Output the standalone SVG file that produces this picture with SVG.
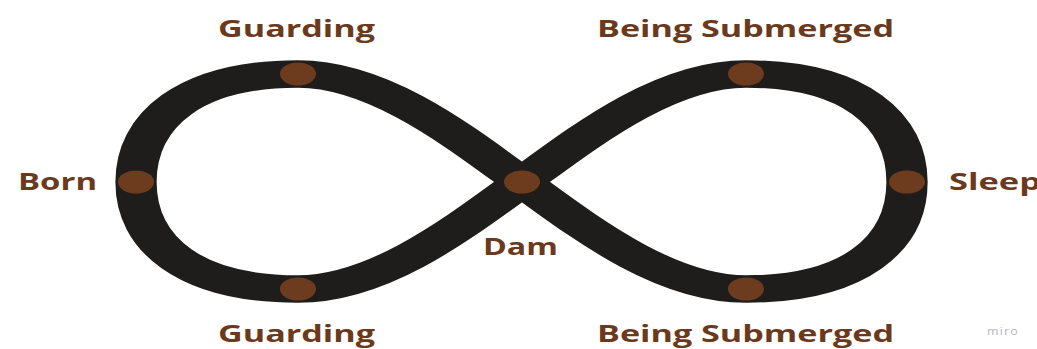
<svg xmlns="http://www.w3.org/2000/svg" width="1037" height="349" viewBox="0 0 1037 349">
<style>
.loop{fill:none;stroke:#1e1d1b;stroke-width:27.5;stroke-linejoin:round}
.dot{fill:#6d3c1e}
.lbl{font-family:"Open Sans","Noto Sans","Liberation Sans",sans-serif;font-weight:700;font-size:23px;fill:#6b3a1c}
.wm{font-family:"Open Sans","Liberation Sans",sans-serif;font-size:10px;fill:#b4b4bc;letter-spacing:1px}
</style>
<rect width="1037" height="349" fill="#ffffff"/>
<g id="connectors" transform="scale(1.5 1)">
<path class="loop" d="M348 182 C306.67 137 253.33 74 198.67 74 C126.67 74 90.67 120 90.67 182 C90.67 244 126.67 289 198.67 289 C253.33 289 306.67 227 348 182 C389.33 137 442.67 74 497.33 74 C569.33 74 604.67 120 604.67 182 C604.67 244 569.33 289 497.33 289 C442.67 289 389.33 227 348 182 Z"/>
</g>
<g id="node-guarding-top">
<ellipse class="dot" cx="298" cy="74" rx="18" ry="11.5"/>
<text class="lbl" x="218" y="37" textLength="157" lengthAdjust="spacingAndGlyphs">Guarding</text>
</g>
<g id="node-submerged-top">
<ellipse class="dot" cx="746" cy="74" rx="18" ry="11.5"/>
<text class="lbl" x="597" y="37" textLength="297" lengthAdjust="spacingAndGlyphs">Being Submerged</text>
</g>
<g id="node-born">
<ellipse class="dot" cx="136" cy="182" rx="18" ry="11.5"/>
<text class="lbl" x="18" y="190" textLength="79" lengthAdjust="spacingAndGlyphs">Born</text>
</g>
<g id="node-dam">
<ellipse class="dot" cx="522" cy="182" rx="18" ry="11.5"/>
<text class="lbl" x="483" y="255" textLength="75" lengthAdjust="spacingAndGlyphs">Dam</text>
</g>
<g id="node-sleep">
<ellipse class="dot" cx="907" cy="182" rx="18" ry="11.5"/>
<text class="lbl" x="949" y="190" textLength="92" lengthAdjust="spacingAndGlyphs">Sleep</text>
</g>
<g id="node-guarding-bottom">
<ellipse class="dot" cx="298" cy="289" rx="18" ry="11.5"/>
<text class="lbl" x="218" y="342" textLength="157" lengthAdjust="spacingAndGlyphs">Guarding</text>
</g>
<g id="node-submerged-bottom">
<ellipse class="dot" cx="746" cy="289" rx="18" ry="11.5"/>
<text class="lbl" x="597" y="342" textLength="297" lengthAdjust="spacingAndGlyphs">Being Submerged</text>
</g>
<text class="wm" x="987" y="335" textLength="32" lengthAdjust="spacingAndGlyphs">miro</text>
</svg>
